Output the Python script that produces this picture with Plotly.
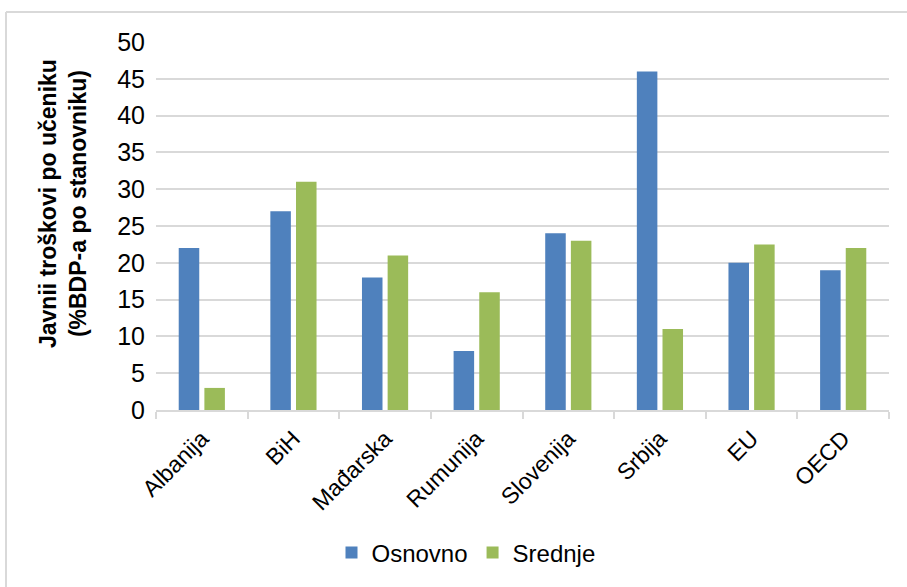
import plotly.graph_objects as go

categories = ["Albanija", "BiH", "Mađarska", "Rumunija", "Slovenija", "Srbija", "EU", "OECD"]
osnovno = [22, 27, 18, 8, 24, 46, 20, 19]
srednje = [3, 31, 21, 16, 23, 11, 22.5, 22]
y_ticks = [0, 5, 10, 15, 20, 25, 30, 35, 40, 45, 50]

FONT = "Liberation Sans Narrow, Arial Narrow, Liberation Sans, Arial, sans-serif"

W, H = 907, 587
L, R, T, B = 156, 18, 42, 177
pw, ph = W - L - R, H - T - B

fig = go.Figure()
fig.add_trace(go.Bar(name="Osnovno", x=categories, y=osnovno, marker=dict(color="#4F81BD", line=dict(width=0))))
fig.add_trace(go.Bar(name="Srednje", x=categories, y=srednje, marker=dict(color="#9BBB59", line=dict(width=0))))

def px_x(x):
    return (x - L) / pw

def px_y(y):
    return (H - B - y) / ph

fig.update_layout(
    width=W, height=H,
    margin=dict(l=L, r=R, t=T, b=B, pad=0),
    paper_bgcolor="white", plot_bgcolor="white",
    barmode="group", bargap=0.44, bargroupgap=0.2,
    font=dict(family=FONT, size=22, color="black"),
    showlegend=True,
    legend=dict(orientation="h", x=px_x(466), y=px_y(553), xanchor="center", yanchor="middle",
                font=dict(family=FONT, size=24), itemwidth=30, traceorder="normal"),
    xaxis=dict(showgrid=False, showline=True, linecolor="#d9d9d9", linewidth=2,
               ticks="outside", tickson="boundaries", ticklen=7, tickcolor="#d9d9d9", tickwidth=2,
               tickangle=-45, ticklabelstandoff=4, tickfont=dict(family=FONT, size=23)),
    yaxis=dict(range=[0, 50], tickvals=y_ticks, showgrid=True, gridcolor="#d9d9d9", gridwidth=2,
               zeroline=False, showline=False, ticks="", ticklabelstandoff=10,
               tickfont=dict(family=FONT, size=25)),
    shapes=[
        dict(type="line", xref="paper", yref="paper", x0=px_x(6), x1=px_x(W + 5), y0=px_y(12), y1=px_y(12),
             line=dict(color="#d9d9d9", width=2)),
        dict(type="line", xref="paper", yref="paper", x0=px_x(6), x1=px_x(6), y0=px_y(12), y1=px_y(H + 5),
             line=dict(color="#d9d9d9", width=2)),
    ],
    annotations=[
        dict(text="<b>Javnii troškovi po učeniku<br>(%BDP-a po stanovniku)</b>", xref="paper", yref="paper",
             x=px_x(63), y=px_y(204), xanchor="center", yanchor="middle", textangle=-90, showarrow=False,
             font=dict(family=FONT, size=23, color="black")),
    ],
)

fig.write_html("out.html")
